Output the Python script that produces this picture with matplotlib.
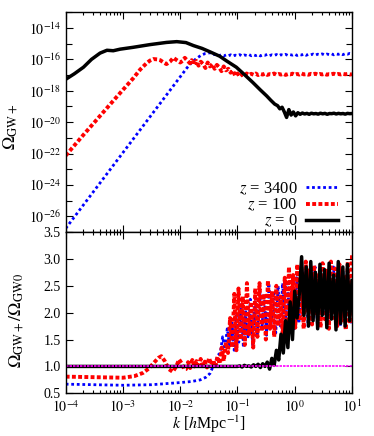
import numpy as np
import matplotlib
matplotlib.use("Agg")
from matplotlib import pyplot as plt
from matplotlib.ticker import FixedLocator, NullFormatter, LogLocator

plt.rcParams["font.family"] = ["Liberation Serif", "DejaVu Serif"]
plt.rcParams["mathtext.fontset"] = "stix"

# ---- top panel: log10(Omega_GW+) ----
black_top_logk = [-4.0, -3.85, -3.69, -3.55, -3.40, -3.28, -3.17, -3.05, -2.82, -2.53, -2.24,
                  -2.06, -1.90, -1.77, -1.62, -1.48, -1.31, -1.19, -1.02, -0.87, -0.73, -0.60,
                  -0.49, -0.42, -0.35]
black_top_val = [-17.27, -16.92, -16.5, -16.0, -15.6, -15.42, -15.45, -15.35, -15.23, -15.06,
                 -14.92, -14.87, -14.93, -15.12, -15.3, -15.52, -15.8, -16.1, -16.5, -17.0,
                 -17.48, -17.95, -18.33, -18.6, -18.85]
black_top_noise = [-18.95, -19.15, -19.05, -19.35, -19.7, -19.2, -19.55, -19.35, -19.6, -19.4,
                   -19.5, -19.42, -19.48, -19.44, -19.5, -19.43, -19.47, -19.45, -19.49, -19.43,
                   -19.47, -19.44, -19.5, -19.45, -19.46, -19.43, -19.48, -19.44, -19.47, -19.45,
                   -19.49, -19.44, -19.46, -19.45]

red_top_logk = [-4.0, -3.7, -3.4, -3.1, -2.82, -2.70, -2.59, -2.53, -2.47, -2.40, -2.35, -2.29,
                -2.24, -2.18, -2.12, -2.06, -2.00, -1.96, -1.92, -1.87, -1.83]
red_top_val = [-22.13, -20.85, -19.6, -18.35, -17.2, -16.65, -16.25, -16.08, -15.98, -16.0,
               -16.05, -16.2, -16.3, -16.15, -15.9, -16.05, -16.2, -16.1, -15.9, -16.1, -16.25]
red_top_noise = [-16.05, -16.35, -16.10, -16.40, -16.15, -16.30, -16.55, -16.20, -16.45, -16.30,
                 -16.60, -16.35, -16.50, -16.75, -16.45, -16.70, -16.60, -16.85, -16.70, -17.05,
                 -16.90,
                 -17.10, -16.95, -17.05, -16.90, -17.00, -16.92, -16.98, -16.90, -17.00, -16.93,
                 -16.97, -16.91, -16.99, -16.94, -16.96, -16.90, -16.98, -16.93, -16.97, -16.92,
                 -16.99, -16.94, -16.96, -16.91, -16.98, -16.93, -16.97, -16.90, -16.96, -16.94,
                 -16.98, -16.92, -16.95, -16.91, -16.97, -16.93, -16.96, -16.92, -16.98, -16.94,
                 -16.95, -16.91, -16.97, -16.93, -16.96, -16.92, -16.95, -16.93, -16.97, -16.94]

blue_top_logk = [-4.0, -1.88, -1.80, -1.72, -1.64, -1.56, -1.48]
blue_top_val = [-26.77, -16.53, -16.2, -15.95, -15.75, -15.62, -15.58]
blue_top_noise = [-15.62, -15.70, -15.66, -15.76, -15.70, -15.78, -15.72, -15.77, -15.71, -15.79,
                  -15.73, -15.76, -15.70, -15.78, -15.72, -15.75, -15.69, -15.77, -15.71, -15.76,
                  -15.70, -15.78, -15.72, -15.74, -15.68, -15.76, -15.71, -15.75, -15.69, -15.77,
                  -15.70, -15.74, -15.68, -15.75, -15.70, -15.73, -15.67, -15.75, -15.69, -15.72,
                  -15.66, -15.74, -15.68, -15.71, -15.66, -15.73, -15.67, -15.70, -15.65, -15.72,
                  -15.66, -15.69, -15.64, -15.71, -15.65, -15.68, -15.63, -15.70, -15.64, -15.67,
                  -15.62, -15.65]

# ---- bottom panel: Omega_GW+ / Omega_GW0 ----
blue_ratio_logk = [-4.0, -3.5, -3.0, -2.5, -2.0, -1.8, -1.65, -1.55, -1.48, -1.43, -1.38, -1.34]
blue_ratio_val = [0.67, 0.66, 0.65, 0.66, 0.70, 0.72, 0.75, 0.80, 0.87, 0.99, 1.10, 1.21]
blue_ratio_noise = [1.25, 1.55, 1.32, 1.70, 1.40, 1.85, 1.30, 1.95, 1.45, 2.15,
                    1.35, 2.05, 1.55, 2.25, 1.40, 2.20, 1.60, 2.45, 1.70, 2.35,
                    1.58, 2.55, 1.80, 2.40, 1.62, 2.50, 1.75, 2.55, 1.65, 2.60,
                    1.85, 2.45, 1.70, 2.65, 1.80, 2.75, 1.95, 2.80, 1.75, 2.70,
                    1.90, 2.85, 1.78, 2.65, 2.00, 2.80, 1.80, 2.75, 1.95, 2.85,
                    1.85, 2.70, 1.75, 2.80, 1.90, 2.75, 1.80, 1.86]

red_ratio_logk = [-4.0, -3.5, -3.0, -2.8, -2.65, -2.55, -2.45, -2.38, -2.33, -2.27, -2.20,
                  -2.13, -2.07, -2.02, -1.97, -1.93]
red_ratio_val = [0.81, 0.80, 0.79, 0.82, 0.88, 0.96, 1.08, 1.16, 1.19, 1.10, 0.95, 0.90, 1.00,
                 1.13, 1.05, 0.95]
red_ratio_noise = [0.95, 1.08, 0.97, 1.12, 1.00, 1.10, 0.96, 1.14, 1.02, 1.09, 0.98, 1.16,
                   1.03, 1.12, 0.99, 1.18,
                   1.05, 1.35, 1.10, 1.45,
                   1.25, 1.90, 1.35, 2.35, 1.30, 2.45, 1.50, 2.30, 1.40, 2.55, 1.60, 2.20,
                   1.35, 2.45, 1.55,
                   2.55, 1.65, 2.35, 1.50, 2.60, 1.70, 2.40, 1.55, 2.50, 1.75, 2.30, 1.60,
                   2.65, 1.75, 2.85, 1.90, 2.70, 1.72, 2.90, 1.85, 2.75, 1.70, 2.95, 2.00,
                   2.80, 1.78, 2.88, 1.95, 2.70, 1.72, 2.92, 1.88, 2.78, 1.70, 2.95, 1.90,
                   2.82, 1.75, 2.90, 1.85, 2.70, 1.68, 2.95, 1.80, 3.07]

black_ratio_logk = [-4.0]
black_ratio_val = [1.0]
black_ratio_noise = [1.00, 1.01, 0.99, 1.02, 1.00, 1.01, 0.99, 1.03, 1.00, 1.04,
                     0.98, 1.05, 1.00, 1.08, 0.95, 1.15, 1.02, 1.30, 1.12, 1.60,
                     1.25, 1.85, 1.35, 2.20, 1.50, 2.40, 1.90, 2.35, 3.04, 1.95,
                     2.85, 1.75, 2.95, 1.85, 2.75, 1.70, 2.90, 1.95, 2.80, 1.72,
                     2.92, 1.88, 2.70, 1.68, 2.95, 1.80, 2.85, 1.75, 2.90, 1.85, 2.60]

unity_k = [1e-4, 1e1]
unity_val = [1.0, 1.0]

labels = ["$z$ = 3400", "$z$ = 100", "$z$ = 0"]


def join(logk, val, noise, start, stop):
    lk = np.concatenate([logk, np.linspace(start, stop, len(noise))])
    v = np.concatenate([val, noise])
    return 10 ** lk, v


bk_top = join(black_top_logk, black_top_val, black_top_noise, -0.30, 1.0)
rd_top = join(red_top_logk, red_top_val, red_top_noise, -1.80, 1.0)
bl_top = join(blue_top_logk, blue_top_val, blue_top_noise, -1.44, 1.0)
bl_rat = join(blue_ratio_logk, blue_ratio_val, blue_ratio_noise, -1.30, 1.0)
rd_rat = join(red_ratio_logk, red_ratio_val, red_ratio_noise, -1.90, 1.0)
bk_rat = join(black_ratio_logk, black_ratio_val, black_ratio_noise, -1.00, 1.0)

blue_style = dict(color="#0000ff", lw=2.0, ls=(0, (1, 1)))
red_style = dict(color="#ff0000", lw=2.8, ls=(0, (1, 0.6)))
black_style = dict(color="black", lw=2.5, ls="-")

fig = plt.figure(figsize=(3.74, 4.36), dpi=100)
ax1 = fig.add_axes([0.1757, 0.4679, 0.7655, 0.5039])
ax2 = fig.add_axes([0.1757, 0.0979, 0.7655, 0.37])

ax1.plot(bl_top[0], 10 ** bl_top[1], label=labels[0], **blue_style)
ax1.plot(rd_top[0], 10 ** rd_top[1], label=labels[1], **red_style)
ax1.plot(bk_top[0], 10 ** bk_top[1], label=labels[2], **black_style)

ax2.plot(bl_rat[0], bl_rat[1], **blue_style)
ax2.plot(rd_rat[0], rd_rat[1], **red_style)
ax2.plot(bk_rat[0], bk_rat[1], **black_style)
ax2.plot(unity_k, unity_val, color="#ff00ff", lw=1.2, ls=(0, (1.5, 0.6)))

for ax in (ax1, ax2):
    ax.set_xscale("log")
    ax.set_xlim(1e-4, 1e1)
    ax.xaxis.set_major_locator(LogLocator(base=10, numticks=10))
    ax.xaxis.set_minor_locator(LogLocator(base=10, subs=np.arange(2, 10), numticks=20))
    ax.tick_params(which="both", direction="in", top=True, right=True, labelsize=10)
    ax.tick_params(which="major", length=5, width=0.8)
    ax.tick_params(which="minor", length=2.5, width=0.8)
    for s in ax.spines.values():
        s.set_linewidth(1.0)

ax1.set_yscale("log")
ax1.set_ylim(1e-27, 1e-13)
ax1.yaxis.set_major_locator(FixedLocator([10.0 ** e for e in range(-26, -13, 2)]))
ax1.yaxis.set_minor_locator(FixedLocator([10.0 ** e for e in range(-27, -12, 2)]))
ax1.yaxis.set_minor_formatter(NullFormatter())
ax1.tick_params(axis="y", which="minor", length=4)
ax1.set_yticklabels([r"$10^{%d}$" % e for e in range(-26, -13, 2)])
ax1.xaxis.set_major_formatter(NullFormatter())
ax1.xaxis.set_minor_formatter(NullFormatter())
ax1.set_ylabel(r"$\Omega_{\rm GW+}$", fontsize=13)
ax1.yaxis.set_label_coords(-0.16, 0.48)

leg = ax1.legend(loc="lower right", bbox_to_anchor=(0.95, 0.01), frameon=False,
                 markerfirst=False, fontsize=12, handlelength=1.9, handletextpad=0.5,
                 labelspacing=0.0, borderpad=0.0, borderaxespad=0.0)

ax2.set_ylim(0.5, 3.5)
ax2.set_yticks(np.arange(0.5, 3.51, 0.5))
ax2.set_yticklabels(["%.1f" % v for v in np.arange(0.5, 3.51, 0.5)])
ax2.set_xticks([10.0 ** e for e in range(-4, 2)])
ax2.set_xticklabels([r"$10^{%d}$" % e for e in range(-4, 2)])
ax2.tick_params(axis="x", which="major", pad=4)
ax2.set_ylabel(r"$\Omega_{\rm GW+}/\Omega_{\rm GW0}$", fontsize=13)
ax2.yaxis.set_label_coords(-0.14, 0.45)
ax2.set_xlabel(r"$k$ [$h$Mpc$^{-1}$]", fontsize=11.5)
ax2.xaxis.set_label_coords(0.5, -0.128)

fig.savefig("out.png", dpi=100)
